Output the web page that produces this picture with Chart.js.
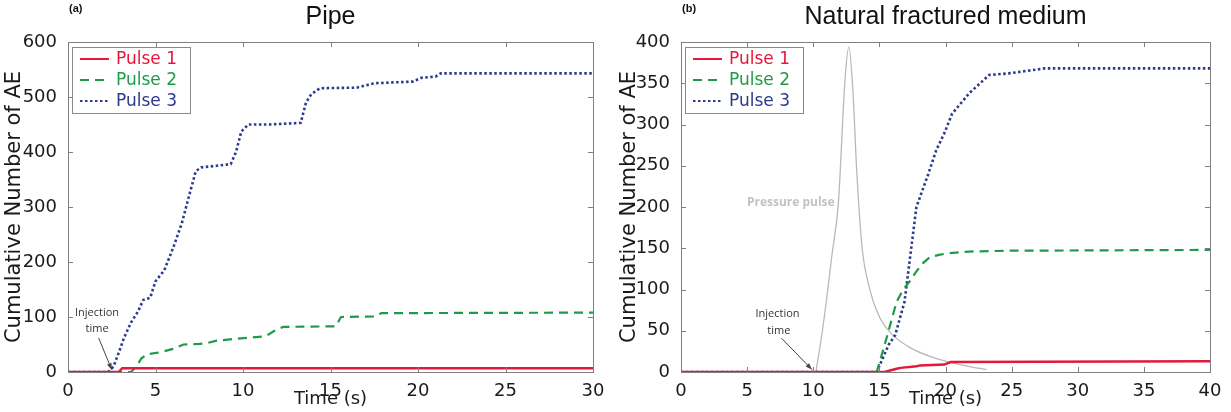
<!DOCTYPE html>
<html>
<head>
<meta charset="utf-8">
<script src="https://cdn.jsdelivr.net/npm/chart.js@4.4.1/dist/chart.umd.min.js"></script>
<style>
  body { margin: 0; background: #fff; width: 1231px; height: 412px; overflow: hidden; }
  canvas { position: absolute; top: 0; }
</style>
</head>
<body>
<canvas id="pipeChart" width="615" height="412" style="left:0"></canvas>
<canvas id="fracChart" width="616" height="412" style="left:615px"></canvas>
<script>
// (a) Pipe
const pipeTicksX = [0, 5, 10, 15, 20, 25, 30];
const pipeTicksY = [0, 100, 200, 300, 400, 500, 600];
const pipeT1 = [0, 2.9, 3.1, 30];
const pipeV1 = [0, 0, 7, 7];
const pipeT2 = [0, 3.6, 3.9, 4.2, 4.5, 5.3, 6.0, 6.6, 7.5, 8.0, 8.5, 9.5, 11.3, 11.8, 12.3, 15.3, 15.6, 17.6, 17.9, 30];
const pipeV2 = [0, 0, 10, 25, 32, 36, 42, 50, 51, 53, 57, 60, 65, 75, 82, 83, 100, 101, 107, 108];
const pipeT3 = [0, 2.3, 2.6, 2.9, 3.2, 3.6, 4.0, 4.3, 4.7, 5.0, 5.5, 6.0, 6.5, 7.0, 7.3, 7.6, 8.5, 9.3, 9.6, 9.9, 10.3, 11.5, 13.3, 13.6, 13.9, 14.4, 16.5, 17.5, 19.7, 20.2, 21.0, 21.3, 30];
const pipeV3 = [0, 0, 10, 35, 62, 90, 110, 131, 135, 165, 185, 225, 270, 330, 365, 372, 375, 378, 400, 437, 450, 450, 453, 490, 505, 516, 517, 525, 528, 535, 537, 543, 543];

// (b) Natural fractured medium
const fracTicksX = [0, 5, 10, 15, 20, 25, 30, 35, 40];
const fracTicksY = [0, 50, 100, 150, 200, 250, 300, 350, 400];
const fracT1 = [0, 15.4, 16.3, 16.6, 17.8, 18.1, 19.9, 20.4, 40];
const fracV1 = [0, 0, 4, 5, 7, 8, 9, 12, 13];
const fracT2 = [0, 14.8, 15.4, 16.3, 16.8, 17.3, 17.8, 18.3, 18.8, 19.5, 20.2, 21.8, 24.8, 40];
const fracV2 = [0, 0, 33, 85, 100, 110, 122, 132, 139, 142, 144, 146, 147, 148];
const fracT3 = [0, 14.8, 15.7, 16.2, 16.9, 17.8, 18.7, 19.3, 19.9, 20.5, 21.8, 23.3, 24.8, 27.5, 40];
const fracV3 = [0, 0, 33, 45, 85, 200, 240, 269, 289, 313, 338, 360, 362, 368, 368];
const pressT = [10.2, 10.6, 11.0, 11.4, 11.9, 12.4, 12.7, 13.0, 13.3, 13.7, 14.2, 15.0, 16.0, 17.5, 19.0, 20.5, 22.0, 23.1];
const pressV = [0, 40, 87, 140, 205, 354, 394, 340, 240, 150, 105, 67, 45, 28, 18, 11, 6, 3];

const seriesNames = ["Pulse 1", "Pulse 2", "Pulse 3"];
const RED = "#e2183d";
const GREEN = "#1f9a4a";
const BLUE = "#2c3a8e";
const GRAY = "#b9b9b9";
const FONT = "'DejaVu Sans', sans-serif";

function pts(t, v) {
  return t.map((x, i) => ({ x: x, y: v[i] }));
}

// frame, inward ticks, titles, legend box and notes
const decoPlugin = {
  id: "deco",
  afterDatasetsDraw(chart, args, opts) {
    const ctx = chart.ctx;
    const a = chart.chartArea;
    const xs = chart.scales.x;
    const ys = chart.scales.y;
    ctx.save();
    ctx.strokeStyle = "#808080";
    ctx.lineWidth = 1;
    ctx.strokeRect(a.left + 0.5, a.top + 0.5, a.right - a.left, a.bottom - a.top);
    ctx.beginPath();
    opts.ticksX.slice(1, -1).forEach((v) => {
      const px = Math.round(xs.getPixelForValue(v)) + 0.5;
      ctx.moveTo(px, a.bottom); ctx.lineTo(px, a.bottom - 5);
      ctx.moveTo(px, a.top); ctx.lineTo(px, a.top + 5);
    });
    opts.ticksY.slice(1, -1).forEach((v) => {
      const py = Math.round(ys.getPixelForValue(v)) + 0.5;
      ctx.moveTo(a.left, py); ctx.lineTo(a.left + 5, py);
      ctx.moveTo(a.right, py); ctx.lineTo(a.right - 5, py);
    });
    ctx.stroke();

    // titles
    ctx.fillStyle = "#111";
    ctx.textAlign = "center";
    ctx.textBaseline = "middle";
    ctx.font = "25px 'Liberation Sans', sans-serif";
    ctx.fillText(opts.title, (a.left + a.right) / 2, 17);
    ctx.font = "bold 11px 'Liberation Sans', sans-serif";
    ctx.textAlign = "left";
    ctx.fillText(opts.tag, a.left + 1, 9);

    // legend
    const lx = a.left + 4, ly = a.top + 5, lw = 118, lh = 66;
    ctx.fillStyle = "#fff";
    ctx.fillRect(lx, ly, lw, lh);
    ctx.strokeStyle = "#8a8a8a";
    ctx.strokeRect(lx + 0.5, ly + 0.5, lw, lh);
    chart.data.datasets.slice(0, 3).forEach((ds, i) => {
      const yy = ly + 12 + i * 21;
      ctx.strokeStyle = ds.borderColor;
      ctx.lineWidth = 2;
      ctx.setLineDash(ds.borderDash || []);
      ctx.beginPath();
      ctx.moveTo(lx + 8, yy); ctx.lineTo(lx + 37, yy);
      ctx.stroke();
      ctx.setLineDash([]);
      ctx.fillStyle = ds.borderColor;
      ctx.font = "17px " + FONT;
      ctx.textAlign = "left";
      ctx.fillText(ds.label, lx + 44, yy + 1);
    });

    // notes placed in data units
    opts.notes.forEach((n) => {
      ctx.fillStyle = n.color || "#333";
      ctx.font = n.font || "11px 'Open Sans', sans-serif";
      ctx.textAlign = "center";
      ctx.fillText(n.text, xs.getPixelForValue(n.x), ys.getPixelForValue(n.y));
    });
    opts.arrows.forEach((ar) => {
      const x1 = xs.getPixelForValue(ar.x1), y1 = ys.getPixelForValue(ar.y1);
      const x2 = xs.getPixelForValue(ar.x2), y2 = ys.getPixelForValue(ar.y2);
      const ang = Math.atan2(y2 - y1, x2 - x1);
      ctx.strokeStyle = "#444";
      ctx.fillStyle = "#444";
      ctx.lineWidth = 1;
      ctx.beginPath();
      ctx.moveTo(x1, y1); ctx.lineTo(x2, y2);
      ctx.stroke();
      ctx.beginPath();
      ctx.moveTo(x2, y2);
      ctx.lineTo(x2 - 7 * Math.cos(ang - 0.35), y2 - 7 * Math.sin(ang - 0.35));
      ctx.lineTo(x2 - 7 * Math.cos(ang + 0.35), y2 - 7 * Math.sin(ang + 0.35));
      ctx.closePath();
      ctx.fill();
    });
    ctx.restore();
  },
};

function makeAEChart(id, cfg) {
  const ctx = document.getElementById(id).getContext("2d");
  const datasets = [
    { label: seriesNames[0], data: pts(cfg.t1, cfg.v1), borderColor: RED, borderWidth: 2.5 },
    { label: seriesNames[1], data: pts(cfg.t2, cfg.v2), borderColor: GREEN, borderWidth: 2.2, borderDash: [9, 6] },
    { label: seriesNames[2], data: pts(cfg.t3, cfg.v3), borderColor: BLUE, borderWidth: 2.6, borderDash: [2.5, 2.5] },
  ];
  if (cfg.pressT) {
    datasets.push({
      label: "Pressure pulse",
      data: pts(cfg.pressT, cfg.pressV),
      borderColor: GRAY,
      borderWidth: 1.3,
      cubicInterpolationMode: "monotone",
    });
  }
  return new Chart(ctx, {
    type: "line",
    data: { datasets: datasets },
    options: {
      responsive: false,
      animation: false,
      parsing: false,
      elements: { point: { radius: 0 }, line: { tension: 0, fill: false } },
      layout: { padding: { left: 0, right: cfg.padRight, top: 42, bottom: 0 } },
      plugins: {
        legend: { display: false },
        tooltip: { enabled: false },
        deco: {
          title: cfg.title,
          tag: cfg.tag,
          ticksX: cfg.ticksX,
          ticksY: cfg.ticksY,
          notes: cfg.notes,
          arrows: cfg.arrows,
        },
      },
      scales: {
        x: {
          type: "linear",
          min: cfg.ticksX[0],
          max: cfg.ticksX[cfg.ticksX.length - 1],
          afterBuildTicks: (s) => { s.ticks = cfg.ticksX.map((v) => ({ value: v })); },
          afterFit: (s) => { s.height = 40; },
          ticks: { font: { family: FONT, size: 18 }, color: "#1a1a1a", padding: 1, maxRotation: 0 },
          grid: { display: false },
          border: { display: false },
          title: { display: true, text: "Time (s)", font: { family: FONT, size: 18 }, color: "#1a1a1a", padding: { top: 0, bottom: 2 } },
        },
        y: {
          type: "linear",
          min: cfg.ticksY[0],
          max: cfg.ticksY[cfg.ticksY.length - 1],
          afterBuildTicks: (s) => { s.ticks = cfg.ticksY.map((v) => ({ value: v })); },
          afterFit: (s) => { s.width = cfg.yWidth; },
          ticks: { font: { family: FONT, size: 18 }, color: "#1a1a1a", padding: 3 },
          grid: { display: false },
          border: { display: false },
          title: { display: true, text: "Cumulative Number of AE", font: { family: FONT, size: 21 }, color: "#1a1a1a", padding: { top: 2, bottom: 0 } },
        },
      },
    },
    plugins: [decoPlugin],
  });
}

makeAEChart("pipeChart", {
  title: "Pipe", tag: "(a)",
  t1: pipeT1, v1: pipeV1, t2: pipeT2, v2: pipeV2, t3: pipeT3, v3: pipeV3,
  ticksX: pipeTicksX, ticksY: pipeTicksY,
  padRight: 22, yWidth: 68,
  notes: [
    { text: "Injection", x: 1.66, y: 107 },
    { text: "time", x: 1.66, y: 78 },
  ],
  arrows: [{ x1: 1.75, y1: 62, x2: 2.5, y2: 4 }],
});

makeAEChart("fracChart", {
  title: "Natural fractured medium", tag: "(b)",
  t1: fracT1, v1: fracV1, t2: fracT2, v2: fracV2, t3: fracT3, v3: fracV3,
  pressT: pressT, pressV: pressV,
  ticksX: fracTicksX, ticksY: fracTicksY,
  padRight: 21, yWidth: 66,
  notes: [
    { text: "Injection", x: 7.3, y: 70 },
    { text: "time", x: 7.4, y: 50 },
    { text: "Pressure pulse", x: 8.3, y: 205, color: "#c2c2c2", font: "bold 12px 'Open Sans', sans-serif" },
  ],
  arrows: [{ x1: 7.6, y1: 41, x2: 9.9, y2: 3 }],
});
</script>
</body>
</html>
